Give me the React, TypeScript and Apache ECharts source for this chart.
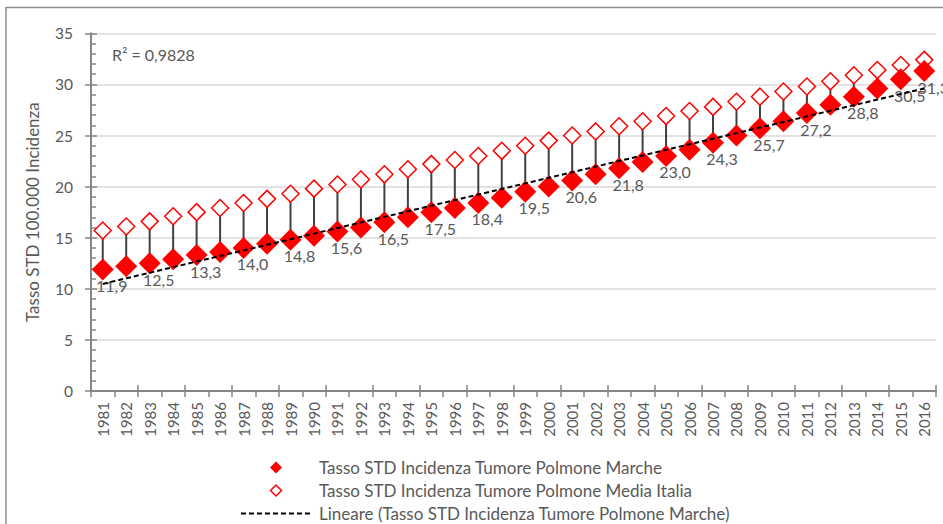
import React, { useEffect, useRef } from "react";
import * as echarts from "echarts";

const years = [
  "1981","1982","1983","1984","1985","1986","1987","1988","1989","1990",
  "1991","1992","1993","1994","1995","1996","1997","1998","1999","2000",
  "2001","2002","2003","2004","2005","2006","2007","2008","2009","2010",
  "2011","2012","2013","2014","2015","2016",
];

const marche = [
  11.9, 12.2, 12.5, 12.9, 13.3, 13.6, 14.0, 14.4, 14.8, 15.2,
  15.6, 16.0, 16.5, 17.0, 17.5, 17.9, 18.4, 18.9, 19.5, 20.0,
  20.6, 21.2, 21.8, 22.4, 23.0, 23.6, 24.3, 25.0, 25.7, 26.4,
  27.2, 28.0, 28.8, 29.6, 30.5, 31.3,
];

const italia = [
  15.7, 16.1, 16.6, 17.1, 17.5, 17.9, 18.4, 18.8, 19.3, 19.8,
  20.2, 20.7, 21.2, 21.7, 22.2, 22.6, 23.0, 23.5, 24.0, 24.5,
  25.0, 25.4, 25.9, 26.4, 26.9, 27.4, 27.8, 28.3, 28.8, 29.3,
  29.8, 30.3, 30.9, 31.4, 31.9, 32.4,
];

const labelledYears = [
  "1981","1983","1985","1987","1989","1991","1993","1995","1997","1999",
  "2001","2003","2005","2007","2009","2011","2013","2015","2016",
];

const seriesNames = [
  "Tasso STD Incidenza Tumore Polmone Marche",
  "Tasso STD Incidenza Tumore Polmone Media Italia",
  "Lineare (Tasso STD Incidenza Tumore Polmone Marche)",
];

const yAxisTitle = "Tasso STD 100.000 Incidenza";
const r2Text = "R² = 0,9828";

const FONT = "Lato";
const TEXT = "#595959";
const AXIS = "#868686";

// legend icons: a diamond centred in a 70x12 box (moveTo points set the box)
const ICON_FILLED = "path://M0,6M28.5,6L35,-0.5L41.5,6L35,12.5ZM70,6";
const ICON_OPEN = "path://M0,6M29.5,6L35,0.5L40.5,6L35,11.5ZM70,6";

function linearFit(vals: number[]) {
  const n = vals.length;
  let sx = 0, sy = 0, sxx = 0, sxy = 0;
  vals.forEach((v, i) => {
    sx += i; sy += v; sxx += i * i; sxy += i * v;
  });
  const b = (n * sxy - sx * sy) / (n * sxx - sx * sx);
  const a = (sy - b * sx) / n;
  return vals.map((_, i) => +(a + b * i).toFixed(4));
}

export default function App() {
  const ref = useRef<HTMLDivElement>(null);

  useEffect(() => {
    if (!ref.current) return;
    const chart = echarts.init(ref.current, null, { renderer: "svg" });
    const trend = linearFit(marche);

    const option: any = {
      animation: false,
      backgroundColor: "#ffffff",
      textStyle: { fontFamily: FONT },
      grid: { left: 91, right: 7, top: 33.3, bottom: 133, containLabel: false },
      xAxis: [
        {
          type: "category",
          data: years,
          boundaryGap: true,
          position: "bottom",
          axisLine: { show: true, onZero: false, lineStyle: { color: AXIS, width: 2 } },
          axisTick: { show: true, inside: false, length: 6, lineStyle: { color: AXIS, width: 1.5 } },
          axisLabel: {
            rotate: 90,
            margin: 11,
            color: TEXT,
            fontFamily: FONT,
            fontSize: 15,
            interval: 0,
          },
          splitLine: { show: false },
        },
        {
          type: "category",
          data: years,
          boundaryGap: true,
          position: "bottom",
          axisLine: { show: false, onZero: false },
          axisTick: { show: true, inside: true, length: 6, lineStyle: { color: AXIS, width: 1.5 } },
          axisLabel: { show: false },
          splitLine: { show: false },
        },
      ],
      yAxis: [
        {
          type: "value",
          min: 0,
          max: 35,
          interval: 5,
          position: "left",
          name: yAxisTitle,
          nameLocation: "middle",
          nameGap: 50,
          nameTextStyle: { color: TEXT, fontFamily: FONT, fontSize: 17 },
          axisLine: { show: true, lineStyle: { color: AXIS, width: 2 } },
          axisTick: { show: true, inside: true, length: 6, lineStyle: { color: AXIS, width: 1.5 } },
          minorTick: { show: true, splitNumber: 5, length: 5, lineStyle: { color: AXIS, width: 1.5 } },
          axisLabel: { color: TEXT, fontFamily: FONT, fontSize: 15.5, margin: 18 },
          splitLine: { show: true, lineStyle: { color: "#d9d9d9", width: 1.5 } },
        },
        {
          type: "value",
          min: 0,
          max: 35,
          interval: 5,
          position: "left",
          axisLine: { show: false },
          axisTick: { show: true, inside: false, length: 6, lineStyle: { color: AXIS, width: 1.5 } },
          axisLabel: { show: false },
          splitLine: { show: false },
        },
      ],
      legend: {
        orient: "vertical",
        left: 240,
        top: 459,
        height: 120,
        padding: 0,
        itemWidth: 70,
        itemHeight: 12,
        itemGap: 6,
        data: [
          { name: seriesNames[0], icon: ICON_FILLED },
          { name: seriesNames[1], icon: ICON_OPEN, itemStyle: { borderWidth: 1.5, borderColor: "#ff0000", color: "#ffffff" } },
          { name: seriesNames[2], itemStyle: { opacity: 0, color: "transparent", borderWidth: 0 } },
        ],
        textStyle: {
          color: TEXT,
          fontFamily: FONT,
          fontSize: 17,
          padding: [0, 0, 0, 3],
        },
        selectedMode: false,
      },
      graphic: [
        {
          type: "rect",
          shape: { x: 6, y: 7.5, width: 1200, height: 1200 },
          style: { fill: "none", stroke: "#8f8f8f", lineWidth: 1.5 },
          silent: true,
          z: -1,
        },
        {
          type: "text",
          left: 112,
          top: 46,
          style: { text: r2Text, fill: TEXT, fontFamily: FONT, fontSize: 16 },
          silent: true,
        },
      ],
      series: [
        {
          type: "custom",
          name: "hilo",
          xAxisIndex: 0,
          yAxisIndex: 0,
          z: 1,
          data: years.map((_, i) => [i, italia[i], marche[i]]),
          encode: { x: 0, y: [1, 2] },
          renderItem: (_params: any, api: any) => {
            const p1 = api.coord([api.value(0), api.value(1)]);
            const p2 = api.coord([api.value(0), api.value(2)]);
            return {
              type: "line",
              shape: { x1: p1[0], y1: p1[1], x2: p2[0], y2: p2[1] },
              style: { stroke: "#404040", lineWidth: 2 },
            };
          },
          silent: true,
        },
        {
          type: "scatter",
          name: seriesNames[1],
          xAxisIndex: 0,
          yAxisIndex: 0,
          z: 3,
          symbol: "diamond",
          symbolSize: 17,
          data: italia,
          itemStyle: { color: "#ffffff", borderColor: "#ff0000", borderWidth: 1.5, opacity: 1 },
        },
        {
          type: "scatter",
          name: seriesNames[0],
          xAxisIndex: 0,
          yAxisIndex: 0,
          z: 4,
          symbol: "diamond",
          symbolSize: 22,
          data: marche,
          itemStyle: { color: "#ff0000", opacity: 1 },
          label: {
            show: true,
            position: "bottom",
            distance: 0,
            offset: [9, -3],
            color: TEXT,
            fontFamily: FONT,
            fontSize: 16,
            formatter: (p: any) =>
              labelledYears.includes(years[p.dataIndex])
                ? p.value.toFixed(1).replace(".", ",")
                : "",
          },
        },
        {
          type: "line",
          name: seriesNames[2],
          xAxisIndex: 0,
          yAxisIndex: 0,
          z: 5,
          data: trend,
          symbol: "none",
          showSymbol: false,
          color: "#000000",
          lineStyle: { color: "#000000", width: 2, type: [5, 3] },
        },
      ],
    };
    chart.setOption(option);
    return () => chart.dispose();
  }, []);

  return (
    <div
      ref={ref}
      style={{ position: "fixed", left: 0, top: 0, width: 943, height: 524 }}
    />
  );
}
